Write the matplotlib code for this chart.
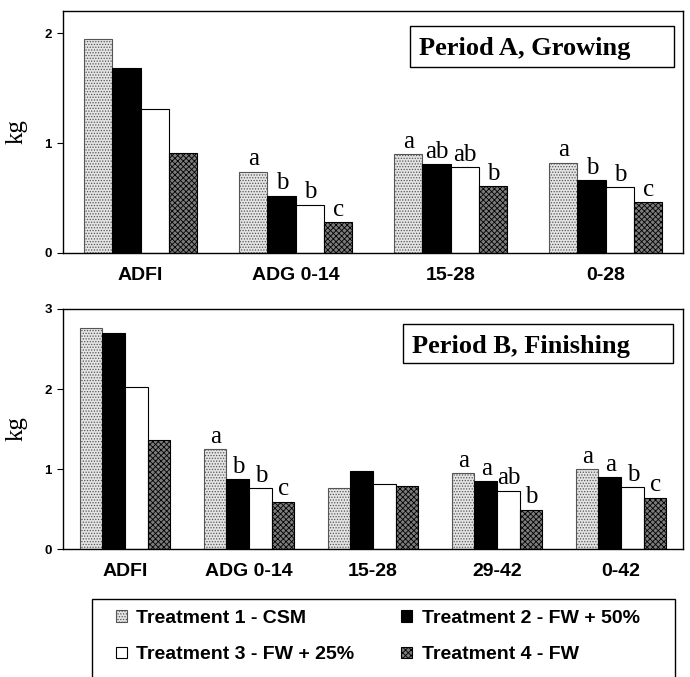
import matplotlib
matplotlib.use("Agg")
import matplotlib.pyplot as plt
from matplotlib.patches import Rectangle, Patch
import numpy as np

# ---------------- data ----------------
treatments = ["Treatment 1 - CSM", "Treatment 2 - FW + 50%",
              "Treatment 3 - FW + 25%", "Treatment 4 - FW"]

cats_a = ["ADFI", "ADG 0-14", "15-28", "0-28"]
a_t1 = [1.95, 0.74, 0.90, 0.82]
a_t2 = [1.68, 0.52, 0.81, 0.66]
a_t3 = [1.31, 0.44, 0.78, 0.60]
a_t4 = [0.91, 0.28, 0.61, 0.46]
letters_a = [["", "", "", ""],
             ["a", "b", "b", "c"],
             ["a", "ab", "ab", "b"],
             ["a", "b", "b", "c"]]

cats_b = ["ADFI", "ADG 0-14", "15-28", "29-42", "0-42"]
b_t1 = [2.76, 1.25, 0.76, 0.95, 1.00]
b_t2 = [2.70, 0.87, 0.975, 0.85, 0.90]
b_t3 = [2.02, 0.76, 0.81, 0.73, 0.77]
b_t4 = [1.36, 0.59, 0.79, 0.49, 0.64]
letters_b = [["", "", "", ""],
             ["a", "b", "b", "c"],
             ["", "", "", ""],
             ["a", "a", "ab", "b"],
             ["a", "a", "b", "c"]]

titles = ["Period A, Growing", "Period B, Finishing"]
yticks_a = [0, 1, 2]
yticks_b = [0, 1, 2, 3]

# ---------------- styles ----------------
plt.rcParams["hatch.linewidth"] = 0.6
styles = [
    dict(facecolor="#e4e4e4", edgecolor="#555555", hatch="......", linewidth=0.8),
    dict(facecolor="black", edgecolor="black", linewidth=0.8),
    dict(facecolor="white", edgecolor="black", linewidth=0.8),
    dict(facecolor="#7c7c7c", edgecolor="black", hatch="xxxxxx", linewidth=0.8),
]

W, H = 690, 677
fig = plt.figure(figsize=(W / 100, H / 100), dpi=100)

def fx(px):
    return px / W

def fy(py):
    return 1 - py / H

serif = "Liberation Serif"
sans = "Liberation Sans"

def panel(rect, cats, series, letters, ylim, yticks, title, title_box, title_x):
    ax = fig.add_axes(rect)
    n = len(cats)
    x = np.arange(n)
    bw = 0.182
    for i, vals in enumerate(series):
        off = (i - 1.5) * bw
        bars = ax.bar(x + off, vals, width=bw, **styles[i])
        for j, b in enumerate(bars):
            lab = letters[j][i]
            if lab:
                ax.annotate(lab, (b.get_x() + b.get_width() / 2, b.get_height()),
                            xytext=(0.5, 1), textcoords="offset points",
                            ha="center", va="bottom", fontsize=18,
                            family=serif)
    ax.set_xlim(-0.5, n - 0.5)
    ax.set_ylim(*ylim)
    ax.set_yticks(yticks)
    ax.set_yticklabels([str(t) for t in yticks], fontsize=9.5,
                       fontweight="bold", family=sans)
    ax.set_xticks(x)
    ax.set_xticklabels(cats, fontsize=14, fontweight="bold", family=sans)
    ax.tick_params(axis="x", length=0, pad=10)
    ax.tick_params(axis="y", length=4, width=0.8, pad=4, direction="out")
    for s in ax.spines.values():
        s.set_linewidth(1.0)
    ax.set_ylabel("kg", fontsize=18, family=serif)
    ax.yaxis.set_label_coords(-0.057, 0.5)
    # title box
    x0, y0, x1, y1 = title_box
    fig.add_artist(Rectangle((fx(x0), fy(y1)), fx(x1) - fx(x0), fy(y0) - fy(y1),
                             transform=fig.transFigure, facecolor="white",
                             edgecolor="black", linewidth=1.0, zorder=5))
    fig.text(fx(title_x), fy((y0 + y1) / 2), title, fontsize=19,
             fontweight="bold", family=serif, ha="left", va="center_baseline",
             zorder=6)
    return ax, bars

ax1, _ = panel([fx(63), fy(253), fx(683) - fx(63), fy(11) - fy(253)],
               cats_a, [a_t1, a_t2, a_t3, a_t4], letters_a, (0, 2.2),
               yticks_a, titles[0], (410, 26, 674, 67), 419)
ax2, _ = panel([fx(63), fy(549), fx(683) - fx(63), fy(309) - fy(549)],
               cats_b, [b_t1, b_t2, b_t3, b_t4], letters_b, (0, 3.0),
               yticks_b, titles[1], (403, 324, 673, 363), 412)

# legend box (bottom edge runs past the figure edge, as in the reference)
fig.add_artist(Rectangle((fx(92), fy(690)), fx(675) - fx(92), fy(599) - fy(690),
                         transform=fig.transFigure, facecolor="white",
                         edgecolor="black", linewidth=1.0, zorder=1))
handles = [Patch(**styles[i]) for i in range(4)]
order = [0, 2, 1, 3]
leg = fig.legend([handles[i] for i in order], [treatments[i] for i in order],
                 ncol=2, loc="upper left", bbox_to_anchor=(fx(116), fy(610)),
                 frameon=False, borderaxespad=0, borderpad=0,
                 handlelength=0.55, handleheight=0.55, handletextpad=0.5,
                 columnspacing=2.4, labelspacing=1.0,
                 prop={"family": sans, "weight": "bold", "size": 14})

fig.savefig("out.png", dpi=100)
